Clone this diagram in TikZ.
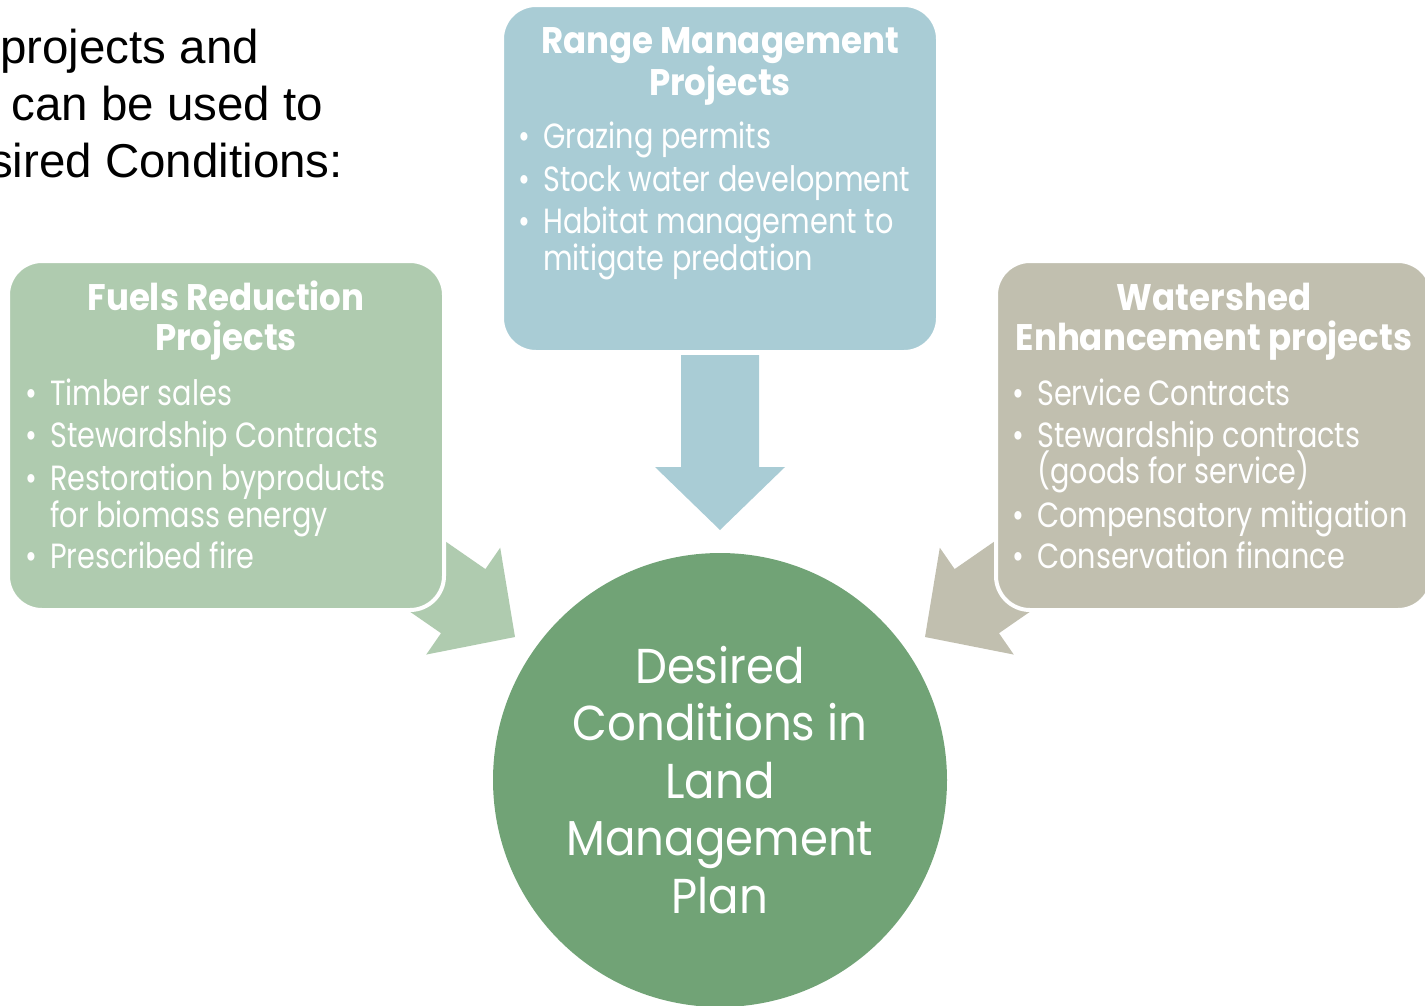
\documentclass[tikz,border=0pt]{standalone}
\usepackage{fontspec}
\setmainfont{Liberation Sans}
\newfontfamily\twcen[FakeStretch=0.82]{Poppins}
\newfontfamily\twwide[FakeStretch=0.92]{Poppins}
\usetikzlibrary{positioning}

\definecolor{rangeblue}{HTML}{A9CCD5}
\definecolor{fuelsgreen}{HTML}{AFCBAF}
\definecolor{watergrey}{HTML}{C1BFAF}
\definecolor{goalgreen}{HTML}{71A376}

% block arrow: colour, tip, turn
\newcommand{\blockarrow}[3]{%
  \fill[#1,shift={(#2)},rotate=#3] (0,0) -- (65,-63) -- (39,-63) -- (39,-175)
    -- (-39,-175) -- (-39,-63) -- (-65,-63) -- cycle;}

\begin{document}
\begin{tikzpicture}[x=1pt,y=-1pt]
	\tikzstyle{box}=[rectangle,rounded corners=34pt,draw=white,line width=4pt,inner sep=0pt,minimum width=436pt,minimum height=349pt]
	\tikzstyle{head}=[anchor=base,inner sep=0pt,text=white,font=\twwide\bfseries\fontsize{37}{42}\selectfont]
	\tikzstyle{item}=[anchor=base west,inner sep=0pt,text=white,font=\twcen\fontsize{35}{42}\selectfont]
	\tikzstyle{dot}=[anchor=base,inner sep=0pt,text=white,font=\twcen\fontsize{35}{42}\selectfont]
	\tikzstyle{intro}=[anchor=base west,inner sep=0pt,font=\fontsize{47.5}{57}\selectfont]

	\useasboundingbox (0,0) rectangle (1425,1005);
	\clip (0,0) rectangle (1425,1005);

	\node[intro] (introA) at (0,63) {projects and};
	\node[intro] (introB) at (-2,120) {\ can be used to};
	\node[intro] (introC) at (-11,177) {sired Conditions:};

	% arrows first, boxes cover their tails
	\coordinate (rangeTip) at (720,530);
	\coordinate (fuelsTip) at (515,637);
	\coordinate (waterTip) at (925,637);
	\blockarrow{rangeblue}{rangeTip}{0}
	\blockarrow{fuelsgreen}{fuelsTip}{55.3}
	\blockarrow{watergrey}{waterTip}{-55.3}

	\node[box,fill=rangeblue,minimum height=347pt] (range) at (720,178.5) {};
	\node[box,fill=fuelsgreen] (fuels) at (226,435.5) {};
	\node[box,fill=watergrey] (water) at (1214,435.5) {};

	\node[circle,fill=goalgreen,minimum size=454pt,inner sep=0pt,text=white,align=center,
	      font=\twwide\fontsize{49}{57.5}\selectfont] (goal) at (720,780)
	      {Desired\\Conditions in\\Land\\Management\\Plan};

	% range box
	\node[head] (rangeHeadA) at (720,53) {Range Management};
	\node[head] (rangeHeadB) at (720,95) {Projects};
	\foreach \n/\y/\txt in {a/148/Grazing permits,b/191/Stock water development,c/233/Habitat management to} {
		\node[dot] (range-\n-dot) at (524,\y) {\textbullet};
		\node[item] (range-\n) at (543,\y) {\txt};
	}
	\node[item] (range-d) at (543,270) {mitigate predation};

	% fuels box
	\node[head] (fuelsHeadA) at (226,310) {Fuels Reduction};
	\node[head] (fuelsHeadB) at (226,350) {Projects};
	\foreach \n/\y/\txt in {a/405/Timber sales,b/447/Stewardship Contracts,c/490/Restoration byproducts,e/568/Prescribed fire} {
		\node[dot] (fuels-\n-dot) at (31,\y) {\textbullet};
		\node[item] (fuels-\n) at (50,\y) {\txt};
	}
	\node[item] (fuels-d) at (50,527) {for biomass energy};

	% watershed box
	\node[head] (waterHeadA) at (1214,310) {Watershed};
	\node[head] (waterHeadB) at (1214,350) {Enhancement projects};
	\foreach \n/\y/\txt in {a/405/Service Contracts,b/447/Stewardship contracts,d/527/Compensatory mitigation,e/568/Conservation finance} {
		\node[dot] (water-\n-dot) at (1018,\y) {\textbullet};
		\node[item] (water-\n) at (1037,\y) {\txt};
	}
	\node[item] (water-c) at (1037,483) {(goods for service)};
\end{tikzpicture}
\end{document}
